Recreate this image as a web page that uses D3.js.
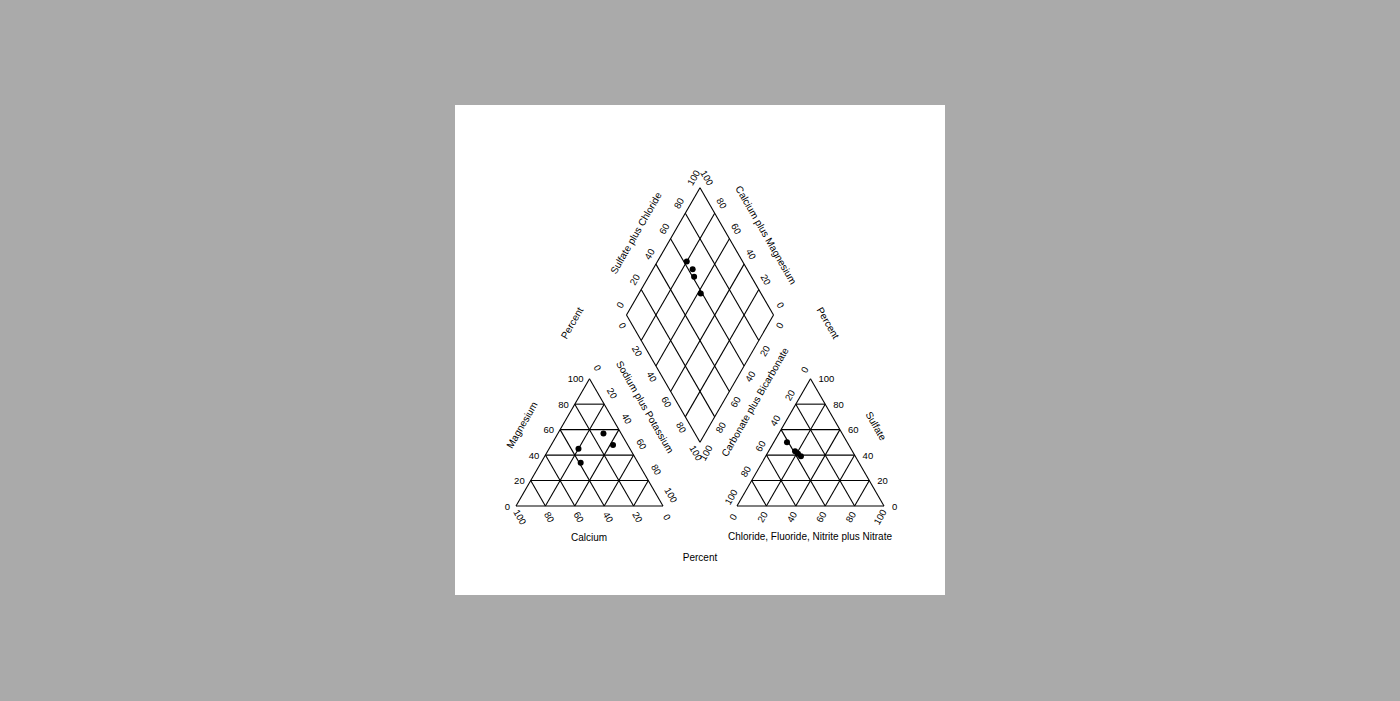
<!DOCTYPE html>
<html>
<head>
<meta charset="utf-8">
<script src="https://cdn.jsdelivr.net/npm/d3@7"></script>
<style>
  html, body { margin: 0; padding: 0; background: #aaaaaa; }
  svg { display: block; }
  text { font-family: "Liberation Sans", Arial, sans-serif; fill: #000; }
</style>
</head>
<body>
<svg id="chart" width="1400" height="701"></svg>
<script>
// ---------- data ----------
const samples = ["A", "B", "C", "D"];
const calcium   = [12, 10, 35, 39];
const magnesium = [57, 48, 45, 34];
const sodiumPotassium = [31, 42, 20, 27];
const bicarbonate = [39, 41, 38, 37];
const sulfate     = [43, 50, 41, 39];
const chloride    = [18, 9, 21, 24];
const tickValues = [0, 20, 40, 60, 80, 100];
const gridValues = [20, 40, 60, 80];

// ---------- layout ----------
const svg = d3.select("#chart");
svg.append("rect").attr("x", 455).attr("y", 105).attr("width", 490).attr("height", 490).attr("fill", "#fff");

const side = 147;
const h = side * Math.sqrt(3) / 2;
const baseY = 506;
const leftX0 = 516;
const rightX0 = 737;
const dL = { x: 700 - side / 2, y: baseY - h / 2 - h };

// scales
const u = d3.scaleLinear().domain([0, 100]).range([0, side]);     // along-base
const v = d3.scaleLinear().domain([0, 100]).range([0, h]);        // height

// ternary: right = fraction toward right base vertex, top = fraction toward apex
function tri(x0, right, top) {
  return [x0 + u(right) + u(top) / 2, baseY - v(top)];
}
// left (cation) triangle: Ca at left vertex, Na+K at right vertex, Mg at apex
const cat = (ca, mg, na) => tri(leftX0, na, mg);
// right (anion) triangle: HCO3 at left vertex, Cl at right vertex, SO4 at apex
const an = (hco3, so4, cl) => tri(rightX0, cl, so4);
// diamond
function dia(so4cl, nak) {
  return [dL.x + u(so4cl + nak) / 2, dL.y - v(so4cl) + v(nak)];
}

const g = svg.append("g").attr("fill", "none").attr("stroke", "#000").attr("stroke-width", 1.1);
const line = d3.line();
function seg(a, b) { g.append("path").attr("d", line([a, b])); }

// left triangle
seg(cat(100, 0, 0), cat(0, 0, 100));
seg(cat(100, 0, 0), cat(0, 100, 0));
seg(cat(0, 100, 0), cat(0, 0, 100));
gridValues.forEach(p => {
  seg(cat(100 - p, p, 0), cat(0, p, 100 - p));     // constant Mg
  seg(cat(p, 0, 100 - p), cat(p, 100 - p, 0));     // constant Ca
  seg(cat(100 - p, 0, p), cat(0, 100 - p, p));     // constant Na+K
});
// right triangle
seg(an(100, 0, 0), an(0, 0, 100));
seg(an(100, 0, 0), an(0, 100, 0));
seg(an(0, 100, 0), an(0, 0, 100));
gridValues.forEach(p => {
  seg(an(100 - p, p, 0), an(0, p, 100 - p));
  seg(an(p, 0, 100 - p), an(p, 100 - p, 0));
  seg(an(100 - p, 0, p), an(0, 100 - p, p));
});
// diamond
seg(dia(0, 0), dia(100, 0)); seg(dia(100, 0), dia(100, 100));
seg(dia(100, 100), dia(0, 100)); seg(dia(0, 100), dia(0, 0));
gridValues.forEach(p => {
  seg(dia(p, 0), dia(p, 100));
  seg(dia(0, p), dia(100, p));
});

// ---------- tick labels ----------
const lab = svg.append("g").attr("font-size", 9.5);
function tickLabel(pt, dx, dy, rot, anchor, txt) {
  lab.append("text")
    .attr("transform", `translate(${pt[0] + dx},${pt[1] + dy}) rotate(${rot})`)
    .attr("text-anchor", anchor)
    .attr("dominant-baseline", "central")
    .text(txt);
}
tickValues.forEach(t => {
  // left triangle
  tickLabel(cat(100 - t, t, 0), -6, 0, 0, "end", t);          // Magnesium
  tickLabel(cat(t, 0, 100 - t), 4, 11, 60, "middle", t);       // Calcium
  tickLabel(cat(0, 100 - t, t), 8, -11, 60, "middle", t);      // Sodium plus Potassium
  // right triangle
  tickLabel(an(0, t, 100 - t), 8, 0, 0, "start", t);           // Sulfate
  tickLabel(an(100 - t, 0, t), -4, 11, -60, "middle", t);      // Chloride
  tickLabel(an(t, 100 - t, 0), -6, -9, -60, "middle", t);      // Carbonate
  // diamond
  tickLabel(dia(t, 0), -6.5, -10, -60, "middle", t);           // Sulfate plus Chloride
  tickLabel(dia(100, 100 - t), 7, -10, 60, "middle", t);       // Calcium plus Magnesium
  tickLabel(dia(0, t), -4, 10.5, 60, "middle", t);             // Sodium plus Potassium
  tickLabel(dia(100 - t, 100), 6, 10.5, -60, "middle", t);     // Carbonate plus Bicarbonate
});

// ---------- titles ----------
const titles = [
  { text: "Magnesium", x: 522, y: 425, r: -60 },
  { text: "Calcium", x: 589, y: 537, r: 0 },
  { text: "Sodium plus Potassium", x: 645, y: 407, r: 60 },
  { text: "Percent", x: 700, y: 557, r: 0 },
  { text: "Percent", x: 572, y: 323, r: -60 },
  { text: "Percent", x: 828, y: 323, r: 60 },
  { text: "Sulfate plus Chloride", x: 636, y: 233, r: -60 },
  { text: "Calcium plus Magnesium", x: 766, y: 235, r: 60 },
  { text: "Carbonate plus Bicarbonate", x: 755, y: 402, r: -60 },
  { text: "Sulfate", x: 876, y: 426, r: 60 },
  { text: "Chloride, Fluoride, Nitrite plus Nitrate", x: 810, y: 536, r: 0 }
];
svg.append("g").attr("font-size", 10).selectAll("text").data(titles).join("text")
  .attr("transform", d => `translate(${d.x},${d.y}) rotate(${d.r})`)
  .attr("text-anchor", "middle")
  .attr("dominant-baseline", "central")
  .text(d => d.text);

// ---------- points ----------
const pts = svg.append("g").attr("fill", "#000");
samples.forEach((s, i) => {
  const p1 = cat(calcium[i], magnesium[i], sodiumPotassium[i]);
  const p2 = an(bicarbonate[i], sulfate[i], chloride[i]);
  const p3 = dia(sulfate[i] + chloride[i], sodiumPotassium[i]);
  [p1, p2, p3].forEach(p => pts.append("circle").attr("cx", p[0]).attr("cy", p[1]).attr("r", 3));
});
</script>
</body>
</html>
